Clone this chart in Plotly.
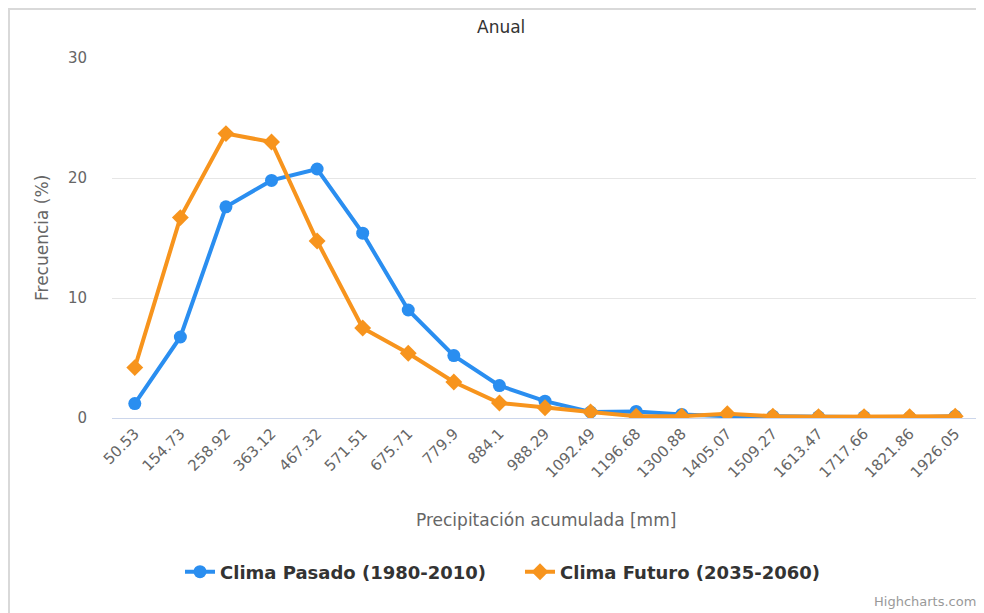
import plotly.graph_objects as go

categories = ["50.53", "154.73", "258.92", "363.12", "467.32", "571.51", "675.71",
              "779.9", "884.1", "988.29", "1092.49", "1196.68", "1300.88", "1405.07",
              "1509.27", "1613.47", "1717.66", "1821.86", "1926.05"]
pasado = [1.2, 6.75, 17.6, 19.8, 20.75, 15.4, 9.0, 5.2, 2.7, 1.4, 0.5, 0.55, 0.3,
          0.15, 0.15, 0.1, 0.1, 0.05, 0.15]
futuro = [4.2, 16.7, 23.7, 23.0, 14.75, 7.5, 5.4, 3.0, 1.25, 0.85, 0.5, 0.15, 0.15,
          0.35, 0.15, 0.1, 0.1, 0.1, 0.15]
y_ticks = [0, 10, 20, 30]

# page is rendered with an 8px body margin
OFF = 8
W, H = 984 - OFF, 613 - OFF
# plot area in page pixels: x 112..978, y 58..418
L, R, T, B = 112 - OFF, 984 - 978, 58 - OFF, 613 - 418
pw, ph = W - L - R, H - T - B

def px(x):
    return (x - OFF - L) / pw

def py(y):
    return (H - B - (y - OFF)) / ph

FONT = "DejaVu Sans, Open Sans, sans-serif"
BLUE = "#2a8ef0"
ORANGE = "#f7941d"

fig = go.Figure()
fig.add_trace(go.Scatter(
    x=categories, y=pasado, mode="lines+markers", name="Clima Pasado (1980-2010)",
    line=dict(color=BLUE, width=4), marker=dict(symbol="circle", size=13, color=BLUE)))
fig.add_trace(go.Scatter(
    x=categories, y=futuro, mode="lines+markers", name="Clima Futuro (2035-2060)",
    line=dict(color=ORANGE, width=4), marker=dict(symbol="diamond", size=13, color=ORANGE)))

fig.update_layout(
    width=W, height=H,
    margin=dict(l=L, r=R, t=T, b=B, pad=0),
    paper_bgcolor="white", plot_bgcolor="white",
    font=dict(family=FONT, color="#666666", size=15),
    showlegend=True,
    legend=dict(orientation="h", x=px(520), xanchor="center", y=py(572), yanchor="middle",
                font=dict(family=FONT, size=18, color="#333333", weight="bold"),
                itemwidth=30, tracegroupgap=0, entrywidth=295, entrywidthmode="pixels"),
    xaxis=dict(type="category", range=[-0.5, len(categories) - 0.5], tickangle=-45,
               showgrid=False, showline=True, linecolor="#ccd6eb", linewidth=1,
               ticks="", tickfont=dict(size=15, color="#666666"), fixedrange=True),
    yaxis=dict(range=[0, 30], tickvals=y_ticks, showgrid=True, gridcolor="#e6e6e6",
               gridwidth=1, zeroline=False, showline=False, ticks="",
               ticklabelstandoff=24, tickfont=dict(size=15, color="#666666"), fixedrange=True),
    annotations=[
        dict(text="Anual", x=px(501), y=py(27), xref="paper", yref="paper",
             showarrow=False, font=dict(size=17, color="#333333"), xanchor="center", yanchor="middle"),
        dict(text="Precipitación acumulada [mm]", x=px(546), y=py(520), xref="paper", yref="paper",
             showarrow=False, font=dict(size=17, color="#666666"), xanchor="center", yanchor="middle"),
        dict(text="Frecuencia (%)", x=px(42), y=py(238), xref="paper", yref="paper", textangle=-90,
             showarrow=False, font=dict(size=17, color="#666666"), xanchor="center", yanchor="middle"),
        dict(text="Highcharts.com", x=px(978), y=py(601), xref="paper", yref="paper",
             showarrow=False, font=dict(size=13, color="#999999"), xanchor="right", yanchor="middle"),
    ],
    shapes=[
        dict(type="rect", xref="paper", yref="paper", x0=px(9), y0=py(640), x1=px(1010), y1=py(9),
             line=dict(color="#d9d9d9", width=2), fillcolor="rgba(0,0,0,0)", layer="below"),
    ],
)

fig.write_html("out.html")
